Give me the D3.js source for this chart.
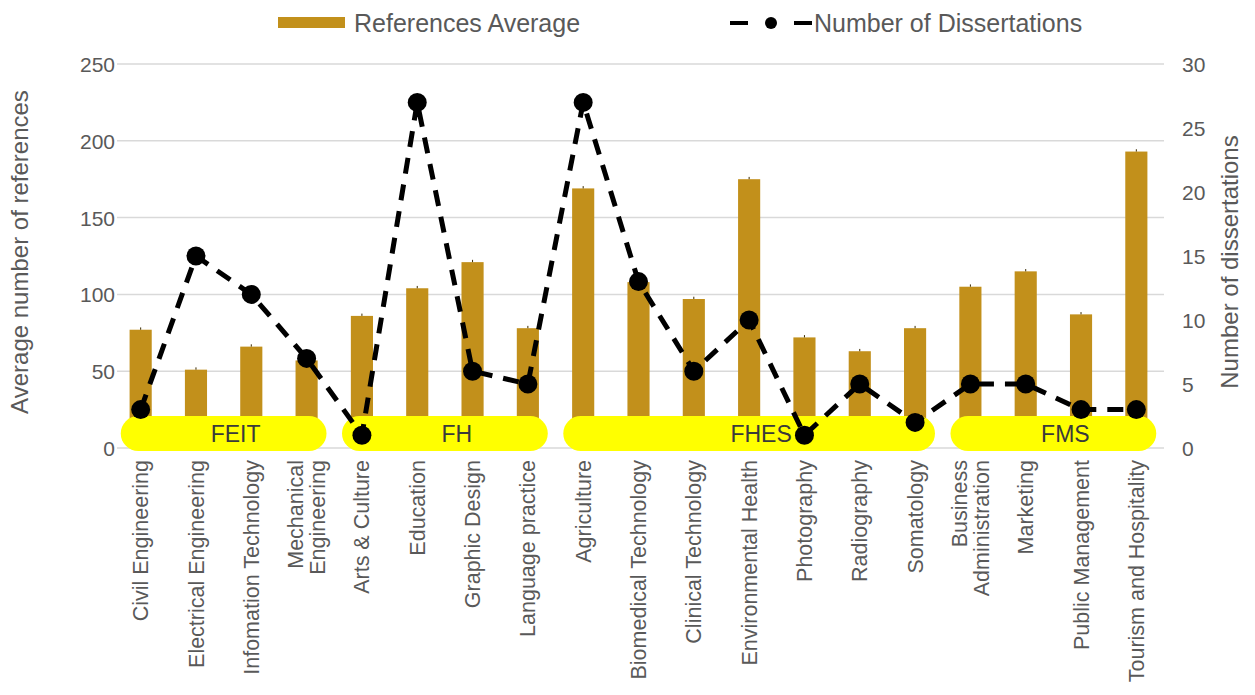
<!DOCTYPE html>
<html>
<head>
<meta charset="utf-8">
<script src="https://cdn.jsdelivr.net/npm/d3@7/dist/d3.min.js"></script>
<style>
  html, body { margin: 0; padding: 0; background: #ffffff; }
  svg { display: block; font-family: "Liberation Sans", Arial, sans-serif; }
</style>
</head>
<body>
<svg id="chart" width="1255" height="695"></svg>
<script>
// Programmes, grouped by faculty
const programmes = [
  "Civil Engineering", "Electrical Engineering", "Infomation Technology", "Mechanical Engineering",
  "Arts & Culture", "Education", "Graphic Design", "Language practice",
  "Agriculture", "Biomedical Technology", "Clinical Technology", "Environmental Health",
  "Photography", "Radiography", "Somatology",
  "Business Administration", "Marketing", "Public Management", "Tourism and Hospitality"
];
// Average number of references per dissertation (left axis)
const referencesAverage = [77, 51, 66, 57, 86, 104, 121, 78, 169, 108, 97, 175, 72, 63, 78, 105, 115, 87, 193];
// Small error caps above each bar
const referencesError = [1.5, 1.5, 1.5, 1.5, 1.5, 1.5, 1.5, 1.5, 1.5, 1.5, 1.5, 1.5, 1.5, 1.5, 1.5, 1.5, 1.5, 1.5, 1.5];
// Number of dissertations (right axis)
const dissertations = [3, 15, 12, 7, 1, 27, 6, 5, 27, 13, 6, 10, 1, 5, 2, 5, 5, 3, 3];
// Faculties and the programmes they span
const faculties = ["FEIT", "FH", "FHES", "FMS"];
const facultyFirst = ["Civil Engineering", "Arts & Culture", "Agriculture", "Business Administration"];
const facultyLast = ["Mechanical Engineering", "Language practice", "Somatology", "Tourism and Hospitality"];
// Axis ticks
const leftTicks = [0, 50, 100, 150, 200, 250];
const rightTicks = [0, 5, 10, 15, 20, 25, 30];
// Label lines for the category axis
const programmeLines = {
  "Mechanical Engineering": ["Mechanical", "Engineering"],
  "Business Administration": ["Business", "Administration"]
};

const svg = d3.select("#chart");
const plot = { left: 113, right: 1164, top: 64, bottom: 448 };
const textGrey = "#595959";
const barColor = "#C2901B";

const x = d3.scaleBand()
  .domain(programmes)
  .range([plot.left, plot.right])
  .paddingInner(0.6)
  .paddingOuter(0.3);

const yLeft = d3.scaleLinear().domain([0, 250]).range([plot.bottom, plot.top]);
const yRight = d3.scaleLinear().domain([0, 30]).range([plot.bottom, plot.top]);

// Gridlines
svg.append("g")
  .selectAll("line")
  .data(leftTicks)
  .join("line")
  .attr("x1", plot.left + 4)
  .attr("x2", plot.right)
  .attr("y1", d => yLeft(d))
  .attr("y2", d => yLeft(d))
  .attr("stroke", "#D9D9D9")
  .attr("stroke-width", 1.5);

// Left axis
const leftAxis = svg.append("g")
  .attr("transform", `translate(${plot.left + 2},0)`)
  .call(d3.axisLeft(yLeft).tickValues(leftTicks).tickSize(0).tickPadding(0));
leftAxis.select(".domain").remove();
leftAxis.selectAll("text")
  .attr("fill", textGrey)
  .style("font-size", "21px")
  .attr("dy", "0.36em");

// Right axis
const rightAxis = svg.append("g")
  .attr("transform", `translate(${plot.right + 18},0)`)
  .call(d3.axisRight(yRight).tickValues(rightTicks).tickSize(0).tickPadding(0));
rightAxis.select(".domain").remove();
rightAxis.selectAll("text")
  .attr("fill", textGrey)
  .style("font-size", "21px")
  .attr("dy", "0.36em");

// Axis titles
svg.append("text")
  .attr("transform", `translate(28,252) rotate(-90)`)
  .attr("text-anchor", "middle")
  .attr("fill", textGrey)
  .style("font-size", "24px")
  .text("Average number of references");

svg.append("text")
  .attr("transform", `translate(1238,262) rotate(-90)`)
  .attr("text-anchor", "middle")
  .attr("fill", textGrey)
  .style("font-size", "24px")
  .text("Number of dissertations");

// Bars
const bw = x.bandwidth();
svg.append("g")
  .selectAll("rect")
  .data(programmes)
  .join("rect")
  .attr("x", d => x(d))
  .attr("y", (d, i) => yLeft(referencesAverage[i]))
  .attr("width", bw)
  .attr("height", (d, i) => yLeft(0) - yLeft(referencesAverage[i]))
  .attr("fill", barColor);

// Error caps
svg.append("g")
  .selectAll("line")
  .data(programmes)
  .join("line")
  .attr("x1", d => x(d) + bw / 2)
  .attr("x2", d => x(d) + bw / 2)
  .attr("y1", (d, i) => yLeft(referencesAverage[i] + referencesError[i]))
  .attr("y2", (d, i) => yLeft(referencesAverage[i]))
  .attr("stroke", "#3a2a00")
  .attr("stroke-width", 1);

// Faculty bands
const pad = x.step() * 0.16;
const band = svg.append("g");
faculties.forEach((f, i) => {
  const x0 = x(facultyFirst[i]) - pad;
  const x1 = x(facultyLast[i]) + bw + pad;
  band.append("rect")
    .attr("x", x0)
    .attr("y", plot.bottom - 32)
    .attr("width", x1 - x0)
    .attr("height", 35)
    .attr("rx", 17.5)
    .attr("fill", "#FFFF00");
  band.append("text")
    .attr("x", (x0 + x1) / 2 + 12)
    .attr("y", plot.bottom - 6)
    .attr("text-anchor", "middle")
    .attr("fill", "#3a3a3a")
    .style("font-size", "23px")
    .text(f);
});

// Dissertation line
const line = d3.line()
  .x((d, i) => x(programmes[i]) + bw / 2)
  .y(d => yRight(d));

svg.append("path")
  .datum(dissertations)
  .attr("d", line)
  .attr("fill", "none")
  .attr("stroke", "#000")
  .attr("stroke-width", 5)
  .attr("stroke-dasharray", "16 11");

svg.append("g")
  .selectAll("circle")
  .data(dissertations)
  .join("circle")
  .attr("cx", (d, i) => x(programmes[i]) + bw / 2)
  .attr("cy", d => yRight(d))
  .attr("r", 9.5)
  .attr("fill", "#000");

// Category labels
const labels = svg.append("g");
programmes.forEach(p => {
  const lines = programmeLines[p] || [p];
  const cx = x(p) + bw / 2;
  const t = labels.append("text")
    .attr("transform", `translate(${cx},${plot.bottom + 12}) rotate(-90)`)
    .attr("text-anchor", "end")
    .attr("fill", textGrey)
    .style("font-size", "21.5px");
  lines.forEach((l, j) => {
    t.append("tspan")
      .attr("x", 0)
      .attr("y", 0)
      .attr("dy", `${0.35 + (j - (lines.length - 1) / 2) * 1.05}em`)
      .text(l);
  });
});

// Legend
const legend = svg.append("g");
legend.append("rect")
  .attr("x", 278).attr("y", 17).attr("width", 67).attr("height", 11)
  .attr("fill", barColor);
legend.append("text")
  .attr("x", 354).attr("y", 32)
  .attr("fill", textGrey)
  .style("font-size", "25px")
  .text("References Average");

legend.append("line")
  .attr("x1", 730).attr("x2", 812).attr("y1", 23).attr("y2", 23)
  .attr("stroke", "#000").attr("stroke-width", 4)
  .attr("stroke-dasharray", "18 46 18");
legend.append("circle")
  .attr("cx", 771).attr("cy", 23).attr("r", 6).attr("fill", "#000");
legend.append("text")
  .attr("x", 814).attr("y", 32)
  .attr("fill", textGrey)
  .style("font-size", "25px")
  .text("Number of Dissertations");
</script>
</body>
</html>
